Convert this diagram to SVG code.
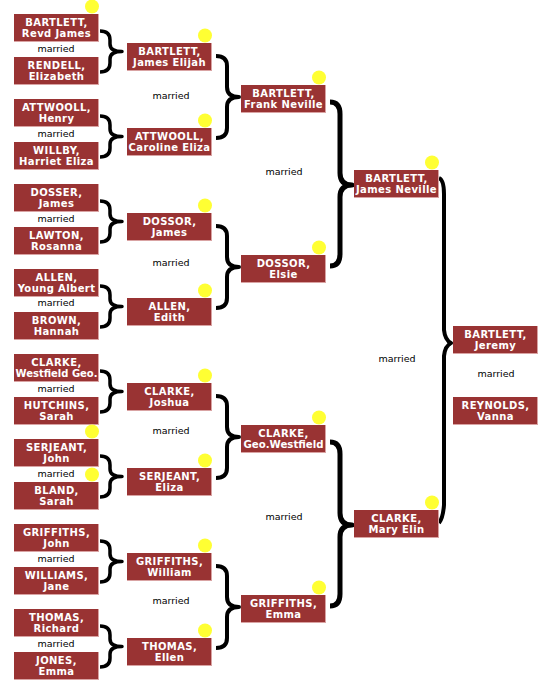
<svg xmlns="http://www.w3.org/2000/svg" xmlns:xlink="http://www.w3.org/1999/xlink" width="553" height="694" viewBox="0 0 553 694">
<style>
.bg{fill:#d9a3a3}
.box{fill:#993333}
.dot{fill:#ffff33}
.n{font-family:"DejaVu Sans",Verdana,sans-serif;font-size:10px;font-weight:bold;fill:#ffffff;text-anchor:middle;letter-spacing:0.4px}
.m{font-family:"DejaVu Sans",Verdana,sans-serif;font-size:9.5px;fill:#000000;text-anchor:middle}
.br{fill:none;stroke:#000000;stroke-linejoin:round}
.b1{stroke-width:3.5}
.b2{stroke-width:4}
.b3{stroke-width:5}
.b4{stroke-width:4}
</style>
<defs>
<g id="card"><rect class="bg" x="0" y="0" width="85" height="28"/><rect class="box" x="0" y="0" width="84" height="27"/></g>
<circle id="d" class="dot" cx="78" cy="-7.5" r="7"/>
<path id="brace1" class="br b1" d="M100,31 Q110,31 110,40 L110,44 Q110,51.5 122,51.5 Q110,51.5 110,59 L110,63 Q110,72 100,72"/>
<path id="brace2" class="br b2" d="M216,56 Q227,56 227,66 L227,87 Q227,97 239,97 Q227,97 227,107 L227,128 Q227,138 216,138"/>
<path id="brace3" class="br b3" d="M330,102 Q340,102 340,114 L340,173 Q340,185 352,185 Q340,185 340,197 L340,254 Q340,266 330,266"/>
</defs>
<g id="connectors">
<use xlink:href="#brace1"/>
<use xlink:href="#brace1" transform="translate(0,85)"/>
<use xlink:href="#brace1" transform="translate(0,170)"/>
<use xlink:href="#brace1" transform="translate(0,255)"/>
<use xlink:href="#brace1" transform="translate(0,340)"/>
<use xlink:href="#brace1" transform="translate(0,425)"/>
<use xlink:href="#brace1" transform="translate(0,510)"/>
<use xlink:href="#brace1" transform="translate(0,595)"/>
<use xlink:href="#brace2"/>
<use xlink:href="#brace2" transform="translate(0,170)"/>
<use xlink:href="#brace2" transform="translate(0,340)"/>
<use xlink:href="#brace2" transform="translate(0,510)"/>
<use xlink:href="#brace3"/>
<use xlink:href="#brace3" transform="translate(0,340)"/>
<path class="br b4" d="M439,178 Q444,180 444,194 L444,330 Q445,340 451,343 Q445,346 444,356 L444,505 Q443,518 439,523"/>
</g>
<g id="labels">
<text class="m" x="56" y="51.5">married</text>
<text class="m" x="56" y="136.5">married</text>
<text class="m" x="56" y="221.5">married</text>
<text class="m" x="56" y="306">married</text>
<text class="m" x="56" y="391.5">married</text>
<text class="m" x="56" y="476.5">married</text>
<text class="m" x="56" y="561.5">married</text>
<text class="m" x="56" y="646.5">married</text>
<text class="m" x="171" y="98.5">married</text>
<text class="m" x="171" y="266">married</text>
<text class="m" x="171" y="433.5">married</text>
<text class="m" x="171" y="603.5">married</text>
<text class="m" x="284" y="174.5">married</text>
<text class="m" x="284" y="519.5">married</text>
<text class="m" x="397" y="361.5">married</text>
<text class="m" x="496" y="376.5">married</text>
</g>
<g id="n-bartlett-revd-james" transform="translate(14,14)"><use xlink:href="#card"/><use xlink:href="#d"/><text class="n" x="42.5" y="12">BARTLETT,</text><text class="n" x="42.5" y="22.5">Revd James</text></g>
<g id="n-rendell-elizabeth" transform="translate(14,57)"><use xlink:href="#card"/><text class="n" x="42.5" y="12">RENDELL,</text><text class="n" x="42.5" y="22.5">Elizabeth</text></g>
<g id="n-attwooll-henry" transform="translate(14,99)"><use xlink:href="#card"/><text class="n" x="42.5" y="12">ATTWOOLL,</text><text class="n" x="42.5" y="22.5">Henry</text></g>
<g id="n-willby-harriet" transform="translate(14,142)"><use xlink:href="#card"/><text class="n" x="42.5" y="12">WILLBY,</text><text class="n" x="42.5" y="22.5">Harriet Eliza</text></g>
<g id="n-dosser-james" transform="translate(14,184)"><use xlink:href="#card"/><text class="n" x="42.5" y="12">DOSSER,</text><text class="n" x="42.5" y="22.5">James</text></g>
<g id="n-lawton-rosanna" transform="translate(14,227)"><use xlink:href="#card"/><text class="n" x="42.5" y="12">LAWTON,</text><text class="n" x="42.5" y="22.5">Rosanna</text></g>
<g id="n-allen-young-albert" transform="translate(14,269)"><use xlink:href="#card"/><text class="n" x="42.5" y="12">ALLEN,</text><text class="n" x="42.5" y="22.5">Young Albert</text></g>
<g id="n-brown-hannah" transform="translate(14,312)"><use xlink:href="#card"/><text class="n" x="42.5" y="12">BROWN,</text><text class="n" x="42.5" y="22.5">Hannah</text></g>
<g id="n-clarke-westfield-geo" transform="translate(14,354)"><use xlink:href="#card"/><text class="n" x="42.5" y="12">CLARKE,</text><text class="n" x="42.5" y="22.5" style="letter-spacing:0" textLength="82" lengthAdjust="spacingAndGlyphs">Westfield Geo.</text></g>
<g id="n-hutchins-sarah" transform="translate(14,397)"><use xlink:href="#card"/><text class="n" x="42.5" y="12">HUTCHINS,</text><text class="n" x="42.5" y="22.5">Sarah</text></g>
<g id="n-serjeant-john" transform="translate(14,439)"><use xlink:href="#card"/><use xlink:href="#d"/><text class="n" x="42.5" y="12">SERJEANT,</text><text class="n" x="42.5" y="22.5">John</text></g>
<g id="n-bland-sarah" transform="translate(14,482)"><use xlink:href="#card"/><use xlink:href="#d"/><text class="n" x="42.5" y="12">BLAND,</text><text class="n" x="42.5" y="22.5">Sarah</text></g>
<g id="n-griffiths-john" transform="translate(14,524)"><use xlink:href="#card"/><text class="n" x="42.5" y="12">GRIFFITHS,</text><text class="n" x="42.5" y="22.5">John</text></g>
<g id="n-williams-jane" transform="translate(14,567)"><use xlink:href="#card"/><text class="n" x="42.5" y="12">WILLIAMS,</text><text class="n" x="42.5" y="22.5">Jane</text></g>
<g id="n-thomas-richard" transform="translate(14,609)"><use xlink:href="#card"/><text class="n" x="42.5" y="12">THOMAS,</text><text class="n" x="42.5" y="22.5">Richard</text></g>
<g id="n-jones-emma" transform="translate(14,652)"><use xlink:href="#card"/><text class="n" x="42.5" y="12">JONES,</text><text class="n" x="42.5" y="22.5">Emma</text></g>
<g id="n-bartlett-james-elijah" transform="translate(127,43)"><use xlink:href="#card"/><use xlink:href="#d"/><text class="n" x="42.5" y="12">BARTLETT,</text><text class="n" x="42.5" y="22.5">James Elijah</text></g>
<g id="n-attwooll-caroline" transform="translate(127,128)"><use xlink:href="#card"/><use xlink:href="#d"/><text class="n" x="42.5" y="12">ATTWOOLL,</text><text class="n" x="42.5" y="22.5">Caroline Eliza</text></g>
<g id="n-dossor-james" transform="translate(127,213)"><use xlink:href="#card"/><use xlink:href="#d"/><text class="n" x="42.5" y="12">DOSSOR,</text><text class="n" x="42.5" y="22.5">James</text></g>
<g id="n-allen-edith" transform="translate(127,298)"><use xlink:href="#card"/><use xlink:href="#d"/><text class="n" x="42.5" y="12">ALLEN,</text><text class="n" x="42.5" y="22.5">Edith</text></g>
<g id="n-clarke-joshua" transform="translate(127,383)"><use xlink:href="#card"/><use xlink:href="#d"/><text class="n" x="42.5" y="12">CLARKE,</text><text class="n" x="42.5" y="22.5">Joshua</text></g>
<g id="n-serjeant-eliza" transform="translate(127,468)"><use xlink:href="#card"/><use xlink:href="#d"/><text class="n" x="42.5" y="12">SERJEANT,</text><text class="n" x="42.5" y="22.5">Eliza</text></g>
<g id="n-griffiths-william" transform="translate(127,553)"><use xlink:href="#card"/><use xlink:href="#d"/><text class="n" x="42.5" y="12">GRIFFITHS,</text><text class="n" x="42.5" y="22.5">William</text></g>
<g id="n-thomas-ellen" transform="translate(127,638)"><use xlink:href="#card"/><use xlink:href="#d"/><text class="n" x="42.5" y="12">THOMAS,</text><text class="n" x="42.5" y="22.5">Ellen</text></g>
<g id="n-bartlett-frank-neville" transform="translate(241,85)"><use xlink:href="#card"/><use xlink:href="#d"/><text class="n" x="42.5" y="12">BARTLETT,</text><text class="n" x="42.5" y="22.5">Frank Neville</text></g>
<g id="n-dossor-elsie" transform="translate(241,255)"><use xlink:href="#card"/><use xlink:href="#d"/><text class="n" x="42.5" y="12">DOSSOR,</text><text class="n" x="42.5" y="22.5">Elsie</text></g>
<g id="n-clarke-geo-westfield" transform="translate(241,425)"><use xlink:href="#card"/><use xlink:href="#d"/><text class="n" x="42.5" y="12">CLARKE,</text><text class="n" x="42.5" y="22.5" style="letter-spacing:0" textLength="80" lengthAdjust="spacingAndGlyphs">Geo.Westfield</text></g>
<g id="n-griffiths-emma" transform="translate(241,595)"><use xlink:href="#card"/><use xlink:href="#d"/><text class="n" x="42.5" y="12">GRIFFITHS,</text><text class="n" x="42.5" y="22.5">Emma</text></g>
<g id="n-bartlett-james-neville" transform="translate(354,170)"><use xlink:href="#card"/><use xlink:href="#d"/><text class="n" x="42.5" y="12">BARTLETT,</text><text class="n" x="42.5" y="22.5">James Neville</text></g>
<g id="n-clarke-mary-elin" transform="translate(354,510)"><use xlink:href="#card"/><use xlink:href="#d"/><text class="n" x="42.5" y="12">CLARKE,</text><text class="n" x="42.5" y="22.5">Mary Elin</text></g>
<g id="n-bartlett-jeremy" transform="translate(453,326)"><use xlink:href="#card"/><text class="n" x="42.5" y="12">BARTLETT,</text><text class="n" x="42.5" y="22.5">Jeremy</text></g>
<g id="n-reynolds-vanna" transform="translate(453,397)"><use xlink:href="#card"/><text class="n" x="42.5" y="12">REYNOLDS,</text><text class="n" x="42.5" y="22.5">Vanna</text></g>
</svg>
